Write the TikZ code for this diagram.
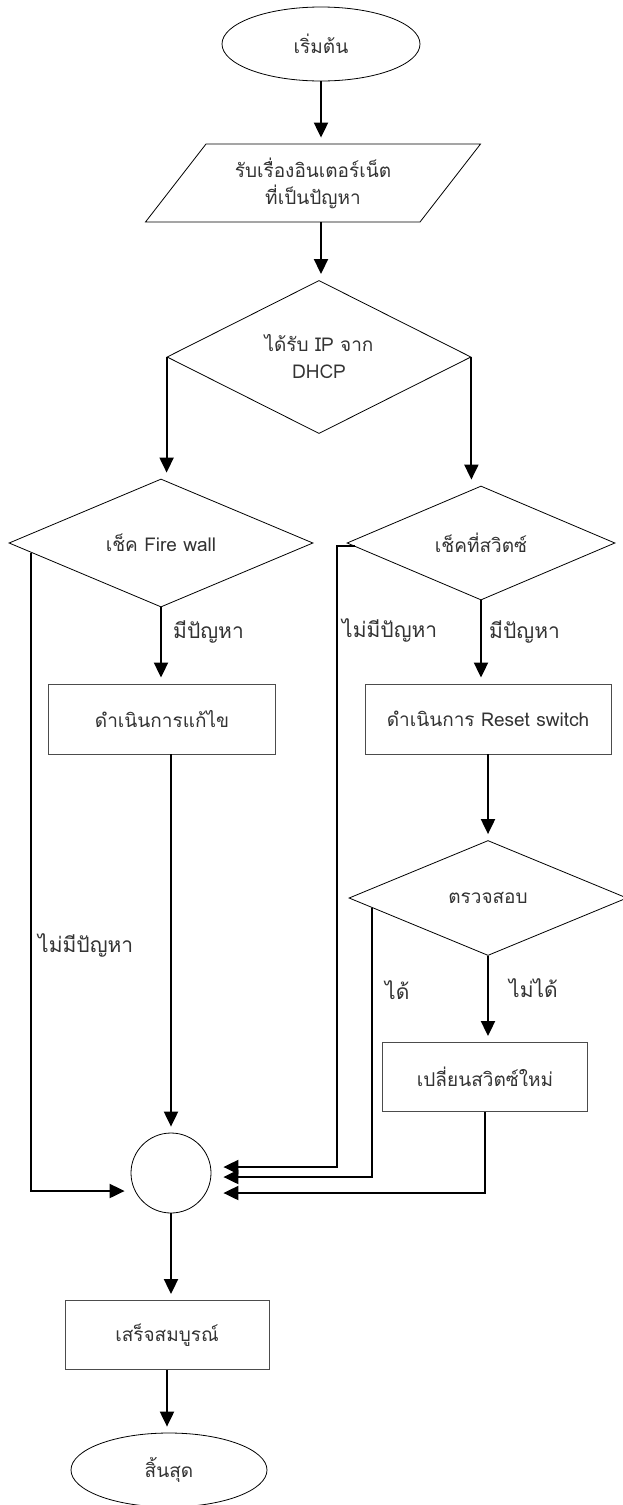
\documentclass[tikz,border=0pt]{standalone}
\usepackage{fontspec}
\usepackage{tikz}
\usetikzlibrary{arrows.meta,shapes.geometric,calc}
\newfontfamily\thaifont[Script=Thai]{Loma}
\definecolor{ink}{HTML}{333333}
\definecolor{edge}{HTML}{000000}
\tikzset{
  term/.style={ellipse, draw=edge, line width=0.8pt, inner sep=0pt},
  inbox/.style={trapezium, trapezium left angle=49, trapezium right angle=131,
    trapezium stretches=true, draw=edge, line width=0.8pt, inner sep=0pt, align=center},
  decide/.style={diamond, draw=edge, line width=0.8pt, inner sep=0pt, align=center},
  procbox/.style={rectangle, draw=black!70, line width=0.9pt, inner sep=0pt},
  joint/.style={circle, draw=edge, line width=0.8pt, minimum size=80pt, inner sep=0pt},
  lbl/.style={anchor=west, inner sep=0pt, font=\thaifont\fontsize{21}{25}\selectfont},
  flow/.style={-{Triangle[length=15pt,width=14pt]}, line width=2pt, shorten >=6pt}
}

\begin{document}
\begin{tikzpicture}[x=1pt, y=-1pt, font=\thaifont\fontsize{19}{27}\selectfont, text=ink]
  \useasboundingbox (0,0) rectangle (623,1505);

  % main column
  \node[term, minimum width=198pt, minimum height=74pt] (start) at (321,44) {เริ่มต้น};
  \node[inbox, minimum width=336pt, minimum height=78pt] (input) at (313,183)
    {รับเรื่องอินเตอร์เน็ต\\ที่เป็นปัญหา};
  \node[decide, minimum width=304pt, minimum height=139pt] (dhcp) at (319,357)
    {ได้รับ IP จาก\\DHCP};

  % two checks
  \node[decide, minimum width=304pt, minimum height=114pt] (fw) at (161,543) {เช็ค Fire wall};
  \node[decide, minimum width=268pt, minimum height=114pt] (sw) at (481,543) {เช็คที่สวิตซ์};

  \node[procbox, minimum width=227pt, minimum height=70pt] (fix) at (162,719) {ดำเนินการแก้ไข};
  \node[procbox, minimum width=246pt, minimum height=70pt] (rst) at (488,719) {ดำเนินการ Reset switch};

  \node[decide, minimum width=278pt, minimum height=115pt] (chk) at (488,898) {ตรวจสอบ};
  \node[procbox, minimum width=205pt, minimum height=69pt] (new) at (485,1077) {เปลี่ยนสวิตซ์ใหม่};

  % joining point and end
  \node[joint] (jn) at (171,1173) {};
  \node[procbox, minimum width=204pt, minimum height=69pt] (done) at (167,1335) {เสร็จสมบูรณ์};
  \node[term, minimum width=196pt, minimum height=74pt] (stop) at (169,1470) {สิ้นสุด};

  % labels
  \node[lbl] (fwyes) at (173,632) {มีปัญหา};
  \node[lbl] (swyes) at (489,632) {มีปัญหา};
  \node[lbl] (swno) at (342,630) {ไม่มีปัญหา};
  \node[lbl] (fwno) at (38,945) {ไม่มีปัญหา};
  \node[lbl] (chkok) at (385,990) {ได้};
  \node[lbl] (chkbad) at (509,988) {ไม่ได้};

  % exits on the lower left edges
  \coordinate (fwout) at ($(fw.west)!0.15!(fw.south)$);
  \coordinate (swout) at ($(sw.west)!0.06!(sw.south)$);
  \coordinate (chkout) at ($(chk.west)!0.17!(chk.south)$);

  \draw[flow] (start.south) -- (start.south |- input.north);
  \draw[flow] (start.south |- input.south) -- (start.south |- dhcp.north);
  \draw[flow] (dhcp.west) -- (dhcp.west |- fw.north);
  \draw[flow] (dhcp.east) -- (dhcp.east |- sw.north);
  \draw[flow] (fw.south) -- (fw.south |- fix.north);
  \draw[flow] (sw.south) -- (sw.south |- rst.north);
  \draw[flow] (rst.south) -- (rst.south |- chk.north);
  \draw[flow] (chk.south) -- (chk.south |- new.north);
  \draw[flow] (jn.north |- fix.south) -- (jn.north);

  \draw[flow] (fwout) |- ($(jn.west)+(0,18)$);
  \draw[flow, shorten >=12pt] (swout) -- ++(-18,0) |- ($(jn.east)+(0,-6)$);
  \draw[flow, shorten >=12pt] (chkout) |- ($(jn.east)+(0,4)$);
  \draw[flow, shorten >=12pt] (new.south) |- ($(jn.east)+(0,20)$);

  \draw[flow] (jn.south) -- (jn.south |- done.north);
  \draw[flow] (done.south) -- (done.south |- stop.north);
\end{tikzpicture}
\end{document}
